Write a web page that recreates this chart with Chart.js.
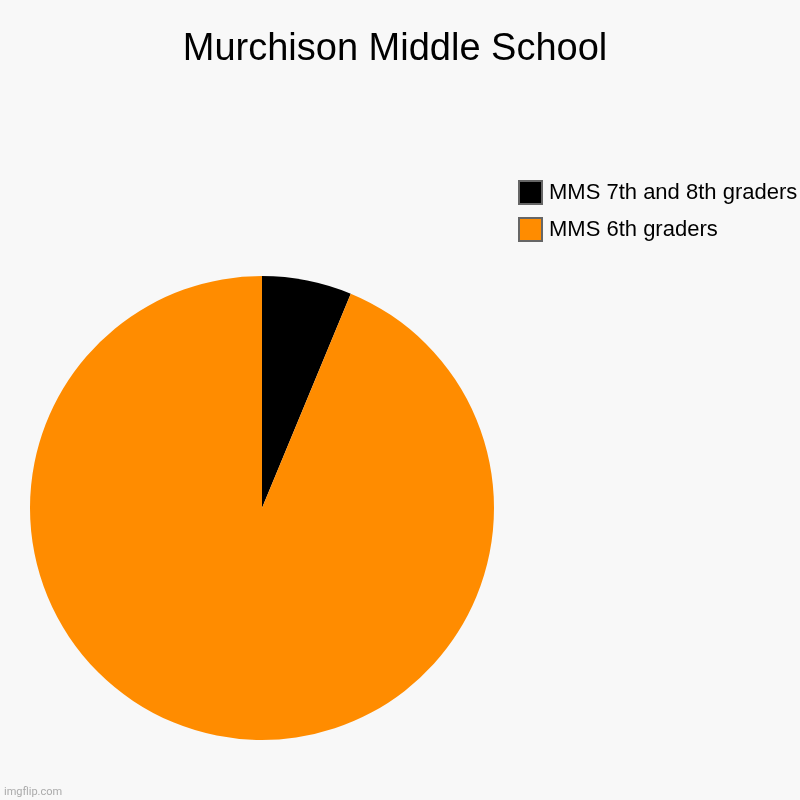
<!DOCTYPE html>
<html lang="en">
<head>
    <meta charset="UTF-8">
    <title>Murchison Middle School</title>
    <script src="https://cdn.jsdelivr.net/npm/chart.js@4.4.1/dist/chart.umd.min.js"></script>
    <style>
        html, body { margin: 0; padding: 0; background: #f8f8f8; }
        #wrap { position: relative; width: 800px; height: 800px; }
    </style>
</head>
<body>
    <div id="wrap">
        <canvas id="pieChart" width="800" height="800"></canvas>
    </div>

    <script>
        const chartTitle = 'Murchison Middle School';
        const labels = ['MMS 7th and 8th graders', 'MMS 6th graders'];
        const values = [1, 15];
        const colors = ['#000000', '#ff8c00'];
        const watermark = 'imgflip.com';

        // title, legend and watermark drawn on the canvas at fixed spots
        const decorations = {
            id: 'decorations',
            afterDraw(chart) {
                const ctx = chart.ctx;
                ctx.save();
                ctx.fillStyle = '#000';
                ctx.font = '38px "Liberation Sans", Arial, sans-serif';
                ctx.textAlign = 'center';
                ctx.textBaseline = 'alphabetic';
                ctx.fillText(chartTitle, 395, 60);

                ctx.font = '22px "Liberation Sans", Arial, sans-serif';
                ctx.textAlign = 'left';
                ctx.textBaseline = 'middle';
                labels.forEach((label, i) => {
                    const y = 181 + i * 37;
                    ctx.fillStyle = colors[i];
                    ctx.fillRect(519, y, 23, 23);
                    ctx.strokeStyle = '#666';
                    ctx.lineWidth = 2;
                    ctx.strokeRect(519, y, 23, 23);
                    ctx.fillStyle = '#000';
                    ctx.fillText(label, 549, y + 12);
                });

                ctx.fillStyle = '#aaa';
                ctx.font = '11px Roboto, "Liberation Sans", sans-serif';
                ctx.textBaseline = 'alphabetic';
                ctx.fillText(watermark, 4, 795);
                ctx.restore();
            }
        };

        new Chart(document.getElementById('pieChart'), {
            type: 'pie',
            data: {
                labels: labels,
                datasets: [{
                    data: values,
                    backgroundColor: colors,
                    borderWidth: 0
                }]
            },
            options: {
                responsive: false,
                animation: false,
                layout: { padding: { left: 30, top: 276, right: 306, bottom: 60 } },
                plugins: {
                    legend: { display: false },
                    title: { display: false },
                    tooltip: { enabled: false }
                }
            },
            plugins: [decorations]
        });
    </script>
</body>
</html>
